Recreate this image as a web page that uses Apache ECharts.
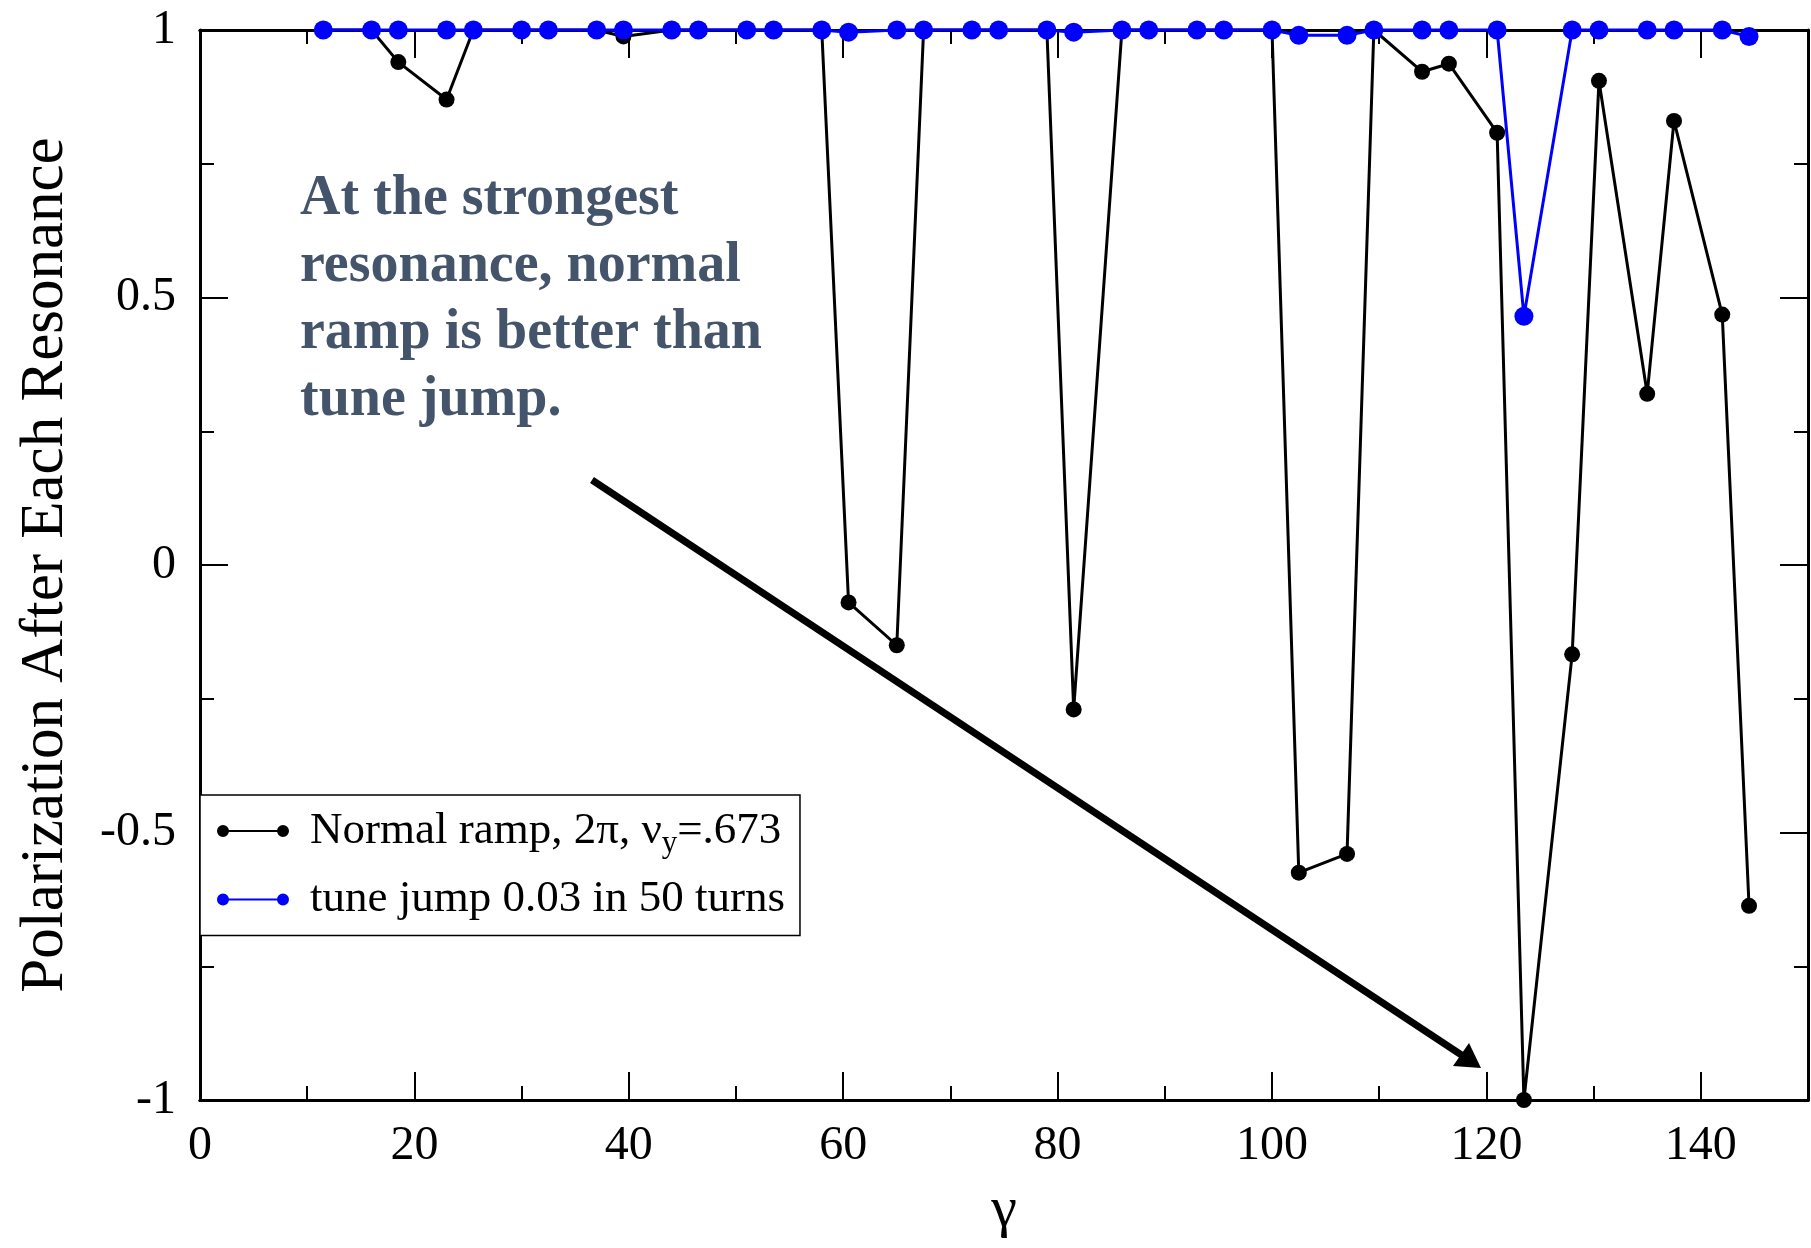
<!DOCTYPE html>
<html>
<head>
<meta charset="utf-8">
<script src="https://cdn.jsdelivr.net/npm/echarts@6/dist/echarts.min.js"></script>
<style>
html,body{margin:0;padding:0;background:#fff;}
#c{width:1811px;height:1248px;}
</style>
</head>
<body>
<div id="c"></div>
<script>
const gamma = [11.5, 16.0, 18.5, 23.0, 25.5, 30.0, 32.5, 37.0, 39.5, 44.0, 46.5, 51.0, 53.5, 58.0, 60.5, 65.0, 67.5, 72.0, 74.5, 79.0, 81.5, 86.0, 88.5, 93.0, 95.5, 100.0, 102.5, 107.0, 109.5, 114.0, 116.5, 121.0, 123.5, 128.0, 130.5, 135.0, 137.5, 142.0, 144.5];
const normalRamp = [1, 1, 0.94, 0.87, 1, 1, 1, 1, 0.988, 1, 1, 1, 1, 1, -0.07, -0.15, 1, 1, 1, 1, -0.27, 1, 1, 1, 1, 1, -0.575, -0.54, 1, 0.922, 0.937, 0.808, -1, -0.167, 0.905, 0.32, 0.83, 0.468, -0.637];
const tuneJump = [1, 1, 1, 1, 1, 1, 1, 1, 1, 1, 1, 1, 1, 1, 0.996, 1, 1, 1, 1, 1, 0.996, 1, 1, 1, 1, 1, 0.99, 0.99, 1, 1, 1, 1, 0.465, 1, 1, 1, 1, 1, 0.988];
const seriesNames = ['Normal ramp, 2π, νy=.673', 'tune jump 0.03 in 50 turns'];
const xTitle = 'γ';
const yTitle = 'Polarization After Each Resonance';
const noteText = 'At the strongest\nresonance, normal\nramp is better than\ntune jump.';

const FONT = 'Liberation Serif';
const chart = echarts.init(document.getElementById('c'));
const zip = (xs, ys) => xs.map((x, i) => [x, ys[i]]);
const legendIcon = 'path://M0,6A6,6 0 1,1 12,6A6,6 0 1,1 0,6Z M11,5H61V7H11Z M60,6A6,6 0 1,1 72,6A6,6 0 1,1 60,6Z';

const axisLine = { show: true, onZero: false, lineStyle: { color: '#000', width: 3 } };
const xBase = { type: 'value', min: 0, max: 150, splitLine: { show: false }, axisLine: axisLine };
const tickStyle = { color: '#000', width: 2 };

chart.setOption({
  backgroundColor: '#fff',
  animation: false,
  grid: { left: 200, right: 3, top: 30, bottom: 148 },
  xAxis: [
    Object.assign({}, xBase, {
      position: 'bottom', interval: 20,
      axisTick: { inside: true, length: 28, lineStyle: tickStyle },
      axisLabel: { fontFamily: FONT, fontSize: 48, color: '#000', margin: 22, showMaxLabel: false },
      name: xTitle, nameLocation: 'middle', nameGap: 82,
      nameTextStyle: { fontFamily: FONT, fontSize: 58, color: '#000' }
    }),
    Object.assign({}, xBase, {
      position: 'bottom', interval: 10,
      axisTick: { inside: true, length: 14, lineStyle: tickStyle },
      axisLabel: { show: false }
    }),
    Object.assign({}, xBase, {
      position: 'top', interval: 20,
      axisTick: { inside: true, length: 28, lineStyle: tickStyle },
      axisLabel: { show: false }
    }),
    Object.assign({}, xBase, {
      position: 'top', interval: 10,
      axisTick: { inside: true, length: 14, lineStyle: tickStyle },
      axisLabel: { show: false }
    })
  ],
  yAxis: [
    {
      type: 'value', min: -1, max: 1, interval: 0.5, position: 'left',
      splitLine: { show: false }, axisLine: axisLine,
      axisTick: { inside: true, length: 28, lineStyle: tickStyle },
      minorTick: { show: true, splitNumber: 2, length: 14, lineStyle: tickStyle },
      axisLabel: { fontFamily: FONT, fontSize: 48, color: '#000', margin: 24 },
      name: yTitle, nameLocation: 'middle', nameGap: 124, nameRotate: 90,
      nameTextStyle: { fontFamily: FONT, fontSize: 61, color: '#000' }
    },
    {
      type: 'value', min: -1, max: 1, interval: 0.5, position: 'right',
      splitLine: { show: false }, axisLine: axisLine,
      axisTick: { inside: true, length: 28, lineStyle: tickStyle },
      minorTick: { show: true, splitNumber: 2, length: 14, lineStyle: tickStyle },
      axisLabel: { show: false }
    }
  ],
  legend: {
    left: 200, top: 795, orient: 'vertical', selectedMode: false,
    itemWidth: 72, itemHeight: 12, itemGap: 16,
    padding: [12, 15, 12, 17],
    backgroundColor: '#fff', borderColor: '#000', borderWidth: 1.5,
    itemStyle: { borderWidth: 0 },
    textStyle: {
      fontFamily: FONT, fontSize: 45, color: '#000', lineHeight: 48, padding: [0, 0, 0, 16],
      rich: {
        sub: { fontFamily: FONT, fontSize: 31, color: '#000', padding: [26, 0, 0, 0] }
      }
    },
    formatter: function (name) {
      return name === seriesNames[0] ? 'Normal ramp, 2π, ν{sub|y}=.673' : name;
    },
    data: [
      { name: seriesNames[0], icon: legendIcon, itemStyle: { color: '#000', borderColor: '#000', borderWidth: 0 } },
      { name: seriesNames[1], icon: legendIcon, itemStyle: { color: '#0000ff', borderColor: '#0000ff', borderWidth: 0 } }
    ]
  },
  series: [
    {
      name: seriesNames[0], type: 'line', data: zip(gamma, normalRamp),
      xAxisIndex: 0, yAxisIndex: 0, clip: false,
      symbol: 'circle', symbolSize: 16, showSymbol: true,
      lineStyle: { color: '#000', width: 3 }, itemStyle: { color: '#000' }, z: 2
    },
    {
      name: seriesNames[1], type: 'line', data: zip(gamma, tuneJump),
      xAxisIndex: 0, yAxisIndex: 0, clip: false,
      symbol: 'circle', symbolSize: 19, showSymbol: true,
      lineStyle: { color: '#0000ff', width: 3 }, itemStyle: { color: '#0000ff' }, z: 3
    }
  ],
  graphic: [
    {
      type: 'text', left: 300, top: 166, z: 10,
      style: {
        text: noteText, fontFamily: FONT, fontWeight: 'bold', fontSize: 56,
        lineHeight: 67, fill: '#44546a'
      }
    },
    {
      type: 'line', z: 10,
      shape: { x1: 592, y1: 480, x2: 1463, y2: 1056 },
      style: { stroke: '#000', lineWidth: 7 }
    },
    {
      type: 'polygon', z: 10,
      shape: { points: [[1481, 1068], [1453, 1066], [1469, 1043]] },
      style: { fill: '#000' }
    }
  ]
});
</script>
</body>
</html>
